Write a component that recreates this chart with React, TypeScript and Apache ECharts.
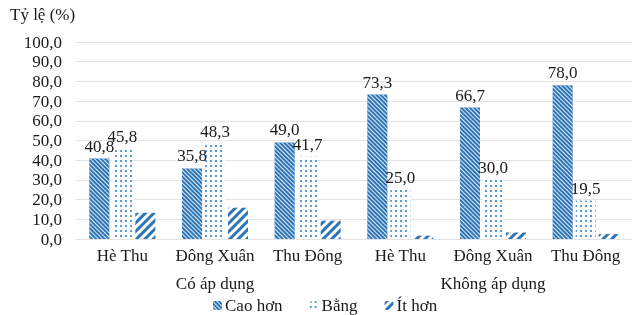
import React, { useEffect, useRef } from "react";
import * as echarts from "echarts";

const seasons = ["Hè Thu", "Đông Xuân", "Thu Đông", "Hè Thu", "Đông Xuân", "Thu Đông"];
const groups = ["Có áp dụng", "Không áp dụng"];
const caoHon = [40.8, 35.8, 49.0, 73.3, 66.7, 78.0];
const bang = [45.8, 48.3, 41.7, 25.0, 30.0, 19.5];
const itHon = [13.3, 15.9, 9.3, 1.7, 3.3, 2.5];
const seriesNames = ["Cao hơn", "Bằng", "Ít hơn"];

const FONT = "Liberation Serif, serif";
const FS = 17;
const fmt = (v: number) => v.toFixed(1).replace(".", ",");

export default function App() {
  const ref = useRef<HTMLDivElement>(null);
  useEffect(() => {
    if (!ref.current) return;
    const chart = echarts.init(ref.current, undefined, { renderer: "svg" });
    const labelStyle = {
      show: true,
      position: "top" as const,
      distance: 4,
      fontFamily: FONT,
      fontSize: FS,
      color: "#1a1a1a",
      formatter: (p: any) => fmt(p.value),
    };
    chart.setOption({
      animation: false,
      textStyle: { fontFamily: FONT },
      graphic: [
        {
          type: "text",
          left: 10,
          top: 6,
          style: { text: "Tỷ lệ (%)", fontFamily: FONT, fontSize: FS, fill: "#1a1a1a" },
        },
      ],
      grid: { left: 76, top: 42, bottom: 76, width: 558 },
      legend: {
        data: seriesNames,
        top: 292,
        left: 208,
        itemWidth: 9,
        itemHeight: 9,
        itemGap: 27,
        textStyle: { fontFamily: FONT, fontSize: FS, color: "#1a1a1a", padding: [0, 0, 0, -2] },
      },
      xAxis: [
        {
          type: "category",
          data: seasons,
          axisLine: { show: false },
          axisTick: { show: false },
          axisLabel: { fontFamily: FONT, fontSize: FS, color: "#1a1a1a", margin: 8, interval: 0 },
        },
        {
          type: "category",
          data: groups,
          position: "bottom",
          offset: 28,
          axisLine: { show: false },
          axisTick: { show: false },
          axisLabel: { fontFamily: FONT, fontSize: FS, color: "#1a1a1a", margin: 8, interval: 0 },
        },
      ],
      yAxis: {
        type: "value",
        min: 0,
        max: 100,
        interval: 10,
        axisLine: { show: false },
        axisTick: { show: false },
        splitLine: { lineStyle: { color: "#e3e3e3", width: 1 } },
        axisLabel: {
          fontFamily: FONT,
          fontSize: FS,
          color: "#1a1a1a",
          margin: 14,
          formatter: (v: number) => fmt(v),
        },
      },
      series: [
        {
          name: seriesNames[0],
          type: "bar",
          data: caoHon,
          barWidth: 20,
          barGap: "15%",
          itemStyle: {
            color: "#2E75B6",
            decal: {
              symbol: "rect",
              symbolSize: 1,
              color: "rgba(255,255,255,0.85)",
              dashArrayX: [1, 0],
              dashArrayY: [1, 1.8],
              rotation: Math.PI / 4,
            },
          },
          label: labelStyle,
        },
        {
          name: seriesNames[1],
          type: "bar",
          data: bang,
          barWidth: 20,
          barGap: "15%",
          itemStyle: {
            color: "#ffffff",
            decal: {
              symbol: "rect",
              symbolSize: 1,
              color: "#5B9BD5",
              dashArrayX: [1.3, 2.7],
              dashArrayY: [1.3, 2.2],
              rotation: 0,
            },
          },
          label: labelStyle,
        },
        {
          name: seriesNames[2],
          type: "bar",
          data: itHon,
          barWidth: 20,
          barGap: "15%",
          itemStyle: {
            color: "#ffffff",
            decal: {
              symbol: "rect",
              symbolSize: 1,
              color: "#2E75B6",
              dashArrayX: [1, 0],
              dashArrayY: [3, 3],
              rotation: -Math.PI / 4,
            },
          },
        },
      ],
    });
    return () => chart.dispose();
  }, []);
  return (
    <div
      ref={ref}
      style={{ position: "fixed", left: 0, top: 0, width: 632, height: 315 }}
    />
  );
}
